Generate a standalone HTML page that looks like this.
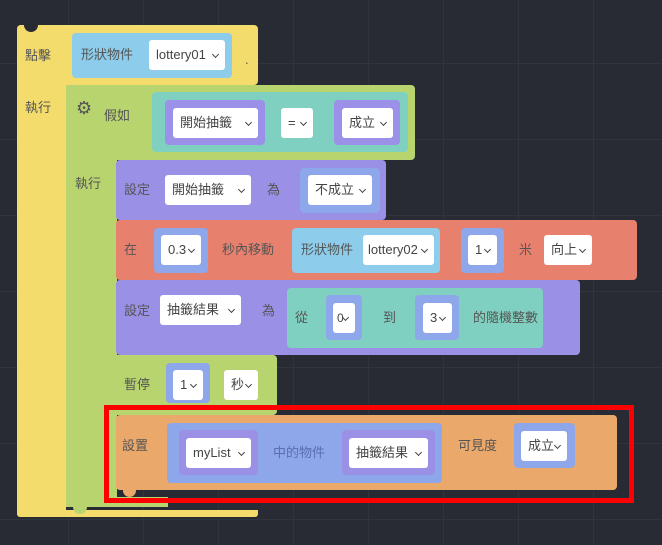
<!DOCTYPE html>
<html><head><meta charset="utf-8"><style>
body{margin:0;width:662px;height:545px;overflow:hidden;background:#282b33;font-family:"Liberation Sans","Noto Sans CJK TC",sans-serif;position:relative}
.a{position:absolute}
.grid{position:absolute;inset:0;background-image:linear-gradient(#30343d 1px,transparent 1px),linear-gradient(90deg,#30343d 1px,transparent 1px);background-size:75px 76px;background-position:-7px -13px}
.w{position:absolute;background:#fff;border-radius:3px;font-size:13px;color:#444;line-height:30px;padding-left:7px;box-sizing:border-box}
.w::after{content:"";position:absolute;right:7px;top:12px;width:4px;height:4px;border-right:1.5px solid #444;border-bottom:1.5px solid #444;transform:rotate(45deg)}
.t{position:absolute;font-size:13px;color:#555;line-height:16px}
.r{border-radius:4px}
</style></head><body>
<div class="grid"></div>
<!-- yellow -->
<div class="a r" style="left:17px;top:25px;width:241px;height:60px;background:#f3dc6c"></div>
<div class="a" style="left:17px;top:25px;width:49px;height:492px;background:#f3dc6c;border-radius:4px 0 0 4px"></div>
<div class="a" style="left:17px;top:510px;width:241px;height:7px;background:#f3dc6c;border-radius:0 0 3px 3px"></div>
<div class="a" style="left:24px;top:18px;width:14px;height:14px;border-radius:50%;background:#282b33"></div>
<div class="t" style="left:25px;top:48px">點擊</div>
<div class="t" style="left:25px;top:100px">執行</div>
<div class="t" style="left:245px;top:52px">.</div>
<div class="a r" style="left:72px;top:33px;width:160px;height:45px;background:#8dccea"></div>
<div class="t" style="left:81px;top:47px">形狀物件</div>
<div class="w" style="left:149px;top:40px;width:76px;height:30px">lottery01</div>
<!-- green -->
<div class="a r" style="left:66px;top:85px;width:349px;height:75px;background:#b8d46f"></div>
<div class="a" style="left:66px;top:85px;width:51px;height:422px;background:#b8d46f"></div>
<div class="a" style="left:66px;top:497px;width:102px;height:10px;background:#b8d46f"></div>
<div class="a" style="left:116px;top:355px;width:161px;height:60px;background:#b8d46f;border-radius:0 4px 4px 0"></div>
<div class="t" style="left:76px;top:100px;font-size:18px;color:#555">⚙</div>
<div class="t" style="left:104px;top:108px">假如</div>
<div class="t" style="left:75px;top:176px">執行</div>
<div class="a r" style="left:152px;top:92px;width:256px;height:60px;background:#7fd0c0"></div>
<div class="a r" style="left:165px;top:100px;width:100px;height:45px;background:#9b91e8"></div>
<div class="w" style="left:173px;top:108px;width:85px;height:30px">開始抽籤</div>
<div class="w" style="left:281px;top:108px;width:32px;height:30px">=</div>
<div class="a r" style="left:334px;top:100px;width:66px;height:45px;background:#9b91e8"></div>
<div class="w" style="left:342px;top:108px;width:51px;height:30px">成立</div>
<!-- purple set -->
<div class="a r" style="left:116px;top:160px;width:270px;height:60px;background:#9a90e6"></div>
<div class="t" style="left:124px;top:182px">設定</div>
<div class="w" style="left:165px;top:175px;width:86px;height:30px">開始抽籤</div>
<div class="t" style="left:267px;top:182px">為</div>
<div class="a r" style="left:300px;top:168px;width:80px;height:45px;background:#8ea6ea"></div>
<div class="w" style="left:308px;top:175px;width:64px;height:30px">不成立</div>
<!-- red -->
<div class="a r" style="left:116px;top:220px;width:521px;height:60px;background:#e8806e"></div>
<div class="t" style="left:124px;top:242px">在</div>
<div class="a r" style="left:154px;top:228px;width:54px;height:45px;background:#8ea6ea"></div>
<div class="w" style="left:161px;top:235px;width:40px;height:30px">0.3</div>
<div class="t" style="left:222px;top:242px">秒內移動</div>
<div class="a r" style="left:292px;top:228px;width:148px;height:45px;background:#8dccea"></div>
<div class="t" style="left:301px;top:242px">形狀物件</div>
<div class="w" style="left:363px;top:235px;width:71px;height:30px;padding-left:5px">lottery02</div>
<div class="a r" style="left:461px;top:228px;width:43px;height:45px;background:#8ea6ea"></div>
<div class="w" style="left:468px;top:235px;width:29px;height:30px">1</div>
<div class="t" style="left:519px;top:242px">米</div>
<div class="w" style="left:544px;top:235px;width:48px;height:30px">向上</div>
<!-- purple random -->
<div class="a r" style="left:116px;top:280px;width:464px;height:75px;background:#9a90e6"></div>
<div class="t" style="left:124px;top:303px">設定</div>
<div class="w" style="left:160px;top:295px;width:81px;height:30px">抽籤結果</div>
<div class="t" style="left:262px;top:303px">為</div>
<div class="a r" style="left:287px;top:288px;width:256px;height:60px;background:#7fd0c0"></div>
<div class="t" style="left:295px;top:310px">從</div>
<div class="a r" style="left:326px;top:295px;width:36px;height:45px;background:#8ea6ea"></div>
<div class="w" style="left:333px;top:303px;width:22px;height:30px;padding-left:4px;font-size:12px">0</div>
<div class="t" style="left:383px;top:310px">到</div>
<div class="a r" style="left:415px;top:295px;width:44px;height:45px;background:#8ea6ea"></div>
<div class="w" style="left:423px;top:303px;width:29px;height:30px">3</div>
<div class="t" style="left:473px;top:310px">的隨機整數</div>
<!-- pause -->
<div class="t" style="left:124px;top:377px">暫停</div>
<div class="a r" style="left:166px;top:363px;width:44px;height:40px;background:#8ea6ea"></div>
<div class="w" style="left:173px;top:370px;width:30px;height:30px">1</div>
<div class="w" style="left:224px;top:370px;width:34px;height:30px">秒</div>
<!-- orange -->
<div class="a r" style="left:116px;top:415px;width:501px;height:75px;background:#eba86b"></div>
<div class="t" style="left:122px;top:438px">設置</div>
<div class="a r" style="left:167px;top:423px;width:275px;height:60px;background:#8ea6ea"></div>
<div class="a r" style="left:179px;top:430px;width:79px;height:45px;background:#9a90e6"></div>
<div class="w" style="left:186px;top:438px;width:65px;height:30px">myList</div>
<div class="t" style="left:273px;top:445px;color:#5a6fb0">中的物件</div>
<div class="a r" style="left:342px;top:430px;width:93px;height:45px;background:#9a90e6"></div>
<div class="w" style="left:349px;top:438px;width:79px;height:30px">抽籤結果</div>
<div class="t" style="left:458px;top:438px">可見度</div>
<div class="a r" style="left:514px;top:423px;width:61px;height:45px;background:#8ea6ea"></div>
<div class="w" style="left:521px;top:431px;width:46px;height:30px">成立</div>
<div class="a" style="left:123px;top:490px;width:13px;height:7px;border-radius:0 0 7px 7px;background:#eba86b"></div>
<div class="a" style="left:73px;top:507px;width:14px;height:7px;border-radius:0 0 7px 7px;background:#b8d46f"></div>
<!-- red frame -->
<div class="a" style="left:104px;top:405px;width:530px;height:98px;border:5px solid #f00;box-sizing:border-box"></div>
</body></html>
